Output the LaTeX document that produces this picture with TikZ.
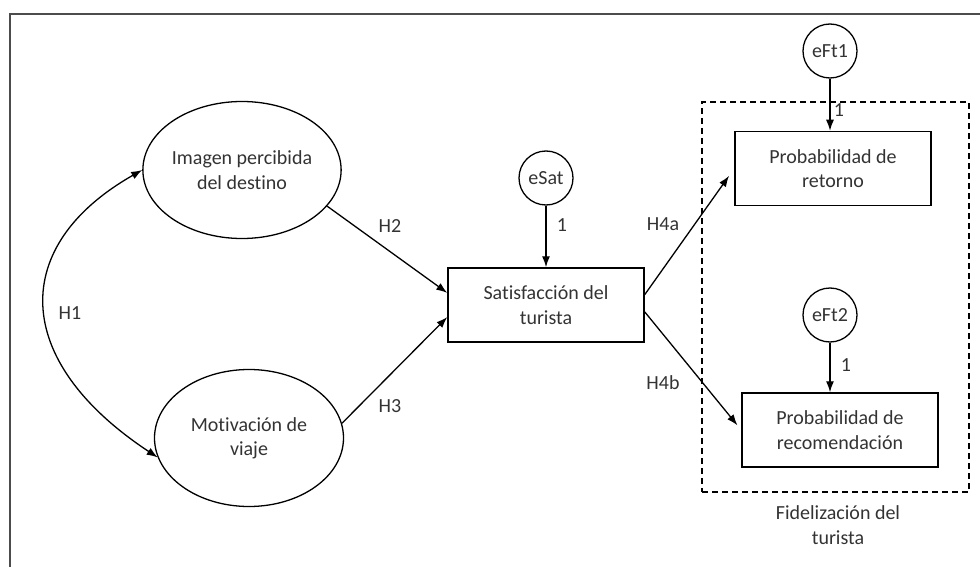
\documentclass[tikz,border=0pt]{standalone}
\usepackage{fontspec}
\setmainfont[Ligatures=NoCommon]{Carlito}
\usetikzlibrary{shapes.geometric,arrows.meta}

\begin{document}
\begin{tikzpicture}[x=1pt,y=-1pt,font=\fontsize{20}{24.4}\selectfont,text=black!80]
\tikzset{latent/.style = {shape=ellipse,draw,line width=1.3pt,minimum width=189pt,minimum height=137pt,inner sep=0pt,align=center}}
\tikzset{observed/.style = {shape=rectangle,draw,line width=1.5pt,minimum width=196pt,minimum height=74pt,inner sep=0pt,align=center}}
\tikzset{error/.style = {shape=circle,draw,line width=1.3pt,minimum size=54pt,inner sep=0pt}}
\tikzset{edge/.style = {line width=1.3pt,-{Latex[length=11pt,width=8pt]}}}
\tikzset{lbl/.style = {inner sep=0pt}}
\useasboundingbox (0,0) rectangle (980,567);
\draw[line width=2pt,black!70] (10,567) -- (10,14) -- (980,14);

\node[latent] (img) at (242,170) {Imagen percibida\\del destino};
\node[latent] (mot) at (249,438) {Motivación de\\viaje};
\node[observed] (sat) at (546,305) {Satisfacción del\\turista};
\node[error] (esat) at (546,178) {eSat};

\node[draw,dash pattern=on 6pt off 4pt,line width=1.3pt,minimum width=267pt,minimum height=390pt] (fid) at (835.5,297) {};
\node[observed] (ret) at (833,168.5) {Probabilidad de\\retorno};
\node[observed] (rec) at (840,430) {Probabilidad de\\recomendación};
\node[error] (eft1) at (830,51) {eFt1};
\node[error] (eft2) at (830,315) {eFt2};
\node[align=center] (fidlbl) at (838,525) {Fidelización del\\turista};

\draw[edge,{Latex[length=11pt,width=8pt]}-{Latex[length=11pt,width=8pt]}] (img.west) .. controls (10,245) and (10,360) .. (mot.192);
\draw[edge] (img.-23) -- (sat.173);
\draw[edge] (mot.9) -- (sat.187);
\draw[edge] (esat) -- (sat.north);
\draw[edge,shorten >=9pt] (sat.6) -- (ret.west);
\draw[edge,shorten >=6pt] (sat.-4) -- (rec.west);
\draw[edge] (eft1) -- (eft1 |- ret.north);
\draw[edge] (eft2) -- (eft2 |- rec.north);

\node[lbl] (h1) at (70,313) {H1};
\node[lbl] (h2) at (390,226) {H2};
\node[lbl] (h3) at (390,406) {H3};
\node[lbl] (h4a) at (663,224) {H4a};
\node[lbl] (h4b) at (663,383) {H4b};
\node[lbl] (one1) at (562,225) {1};
\node[lbl] (one2) at (839,110) {1};
\node[lbl] (one3) at (846,365) {1};
\end{tikzpicture}
\end{document}
